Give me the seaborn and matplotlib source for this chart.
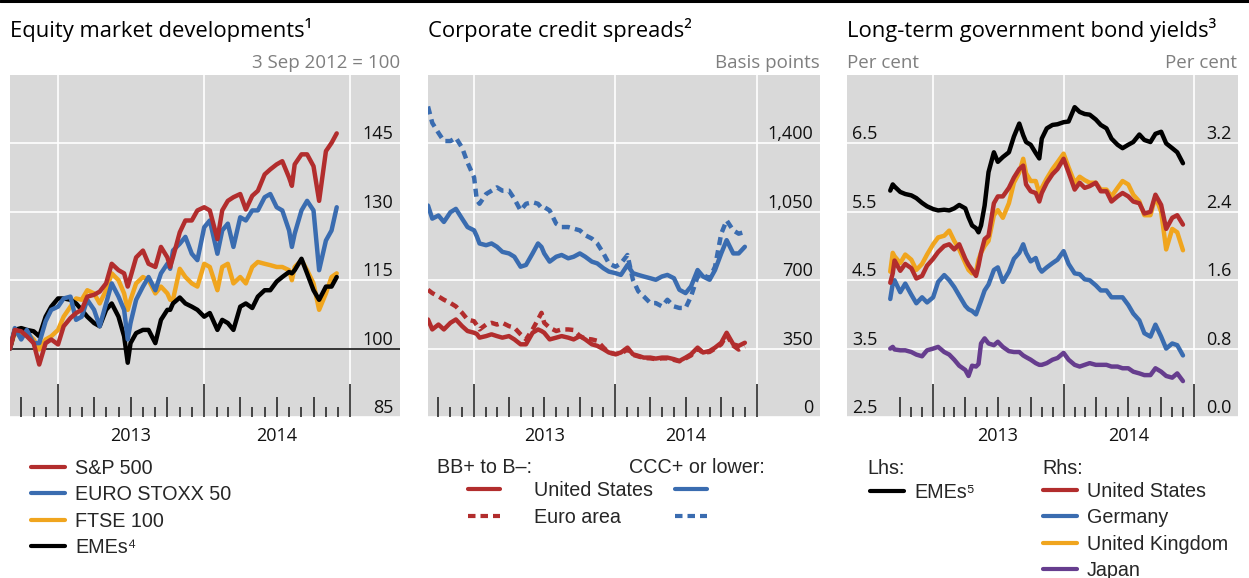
import matplotlib.pyplot as plt
import matplotlib.lines as mlines
import pandas as pd
import seaborn as sns

#Colours
red = "#b22d2d"
blue = "#3a6cb0"
orange = "#f0a51e"
purple = "#663d8e"
grey_bg = "#d9d9d9"
unit_grey = "#7f7f7f"

#Equity market developments, 3 Sep 2012 = 100
eq_dates = [
    "2012-09-03", "2012-09-15", "2012-10-01", "2012-10-15", "2012-11-01", "2012-11-15", "2012-12-01", "2012-12-15",
    "2013-01-01", "2013-01-15", "2013-02-01", "2013-02-15", "2013-03-01", "2013-03-15", "2013-04-01", "2013-04-15",
    "2013-05-01", "2013-05-15", "2013-06-01", "2013-06-15", "2013-06-24", "2013-07-01", "2013-07-15", "2013-08-01",
    "2013-08-15", "2013-09-01", "2013-09-15", "2013-10-01", "2013-10-08", "2013-10-15", "2013-11-01", "2013-11-15",
    "2013-12-01", "2013-12-15", "2014-01-01", "2014-01-15", "2014-02-03", "2014-02-15", "2014-03-01", "2014-03-15",
    "2014-04-01", "2014-04-15", "2014-05-01", "2014-05-15", "2014-06-01", "2014-06-15", "2014-07-01", "2014-07-15",
    "2014-08-01", "2014-08-08", "2014-08-15", "2014-09-01", "2014-09-15", "2014-10-01", "2014-10-15", "2014-11-01",
    "2014-11-15", "2014-11-28"]
sp500 = [
    100.0, 104.1, 103.8, 102.7, 101.2, 96.5, 101.2, 102.0,
    100.9, 104.9, 106.7, 107.8, 108.5, 111.4, 111.8, 112.5,
    114.3, 118.6, 117.2, 116.5, 113.6, 115.7, 120.0, 121.5,
    118.6, 117.9, 122.3, 120.0, 117.9, 120.0, 125.5, 128.1,
    128.1, 130.3, 131.0, 130.3, 124.0, 130.3, 132.4, 133.2,
    133.9, 130.5, 133.5, 134.6, 138.2, 139.3, 140.4, 141.1,
    137.5, 135.7, 140.4, 142.6, 142.6, 140.0, 132.4, 143.3,
    145.1, 147.2]
stoxx50 = [
    100.0, 104.5, 102.0, 104.1, 101.2, 101.2, 106.0, 108.5,
    109.2, 111.0, 111.4, 106.3, 107.0, 110.7, 108.5, 104.9,
    109.9, 114.3, 111.4, 108.5, 102.0, 105.6, 110.7, 113.6,
    115.7, 112.8, 116.5, 118.6, 117.5, 121.5, 123.0, 124.5,
    120.8, 119.4, 126.6, 128.1, 120.8, 125.9, 127.4, 122.3,
    128.8, 128.1, 130.3, 130.3, 133.2, 133.9, 131.0, 130.3,
    125.9, 122.3, 125.2, 130.3, 132.4, 130.3, 117.2, 123.7,
    125.9, 131.0]
ftse100 = [
    100.0, 103.5, 102.7, 103.4, 102.0, 99.8, 102.0, 102.7,
    104.1, 107.0, 109.2, 111.0, 110.7, 112.8, 112.1, 109.9,
    112.8, 116.5, 115.0, 112.1, 108.5, 110.7, 114.3, 115.7,
    115.0, 112.1, 113.6, 112.1, 110.7, 110.7, 117.5, 115.7,
    114.3, 113.6, 118.6, 117.9, 112.8, 117.9, 118.6, 114.3,
    115.7, 114.3, 117.9, 119.0, 118.6, 118.3, 117.9, 117.9,
    117.2, 115.0, 117.9, 119.4, 117.2, 114.3, 108.5, 112.1,
    115.7, 116.5]
eq_emes = [
    100.0, 104.1, 104.5, 104.1, 103.8, 102.7, 107.0, 109.2,
    111.0, 111.0, 110.7, 109.9, 108.5, 107.0, 105.6, 104.9,
    108.5, 109.9, 107.0, 102.7, 96.9, 101.2, 103.4, 104.1,
    104.1, 101.2, 106.3, 108.5, 108.5, 109.9, 111.2, 109.9,
    109.2, 108.5, 107.0, 107.8, 104.1, 106.3, 105.6, 104.1,
    109.2, 109.9, 108.9, 111.4, 112.8, 112.8, 114.7, 115.7,
    116.8, 116.5, 117.2, 119.7, 116.5, 112.8, 110.7, 113.6,
    113.6, 115.7]

#Corporate credit spreads, basis points
cs_dates = [
    "2012-09-04", "2012-09-15", "2012-10-01", "2012-10-15", "2012-11-01", "2012-11-15", "2012-12-01", "2012-12-15",
    "2013-01-01", "2013-01-08", "2013-01-15", "2013-02-01", "2013-02-15", "2013-03-01", "2013-03-15", "2013-04-01",
    "2013-04-15", "2013-05-01", "2013-05-15", "2013-06-01", "2013-06-15", "2013-06-24", "2013-07-01", "2013-07-15",
    "2013-08-01", "2013-08-15", "2013-09-01", "2013-09-15", "2013-10-01", "2013-10-15", "2013-11-01", "2013-11-15",
    "2013-12-01", "2013-12-15", "2014-01-01", "2014-01-15", "2014-02-01", "2014-02-15", "2014-03-01", "2014-03-15",
    "2014-04-01", "2014-04-15", "2014-05-01", "2014-05-15", "2014-06-01", "2014-06-15", "2014-07-01", "2014-07-15",
    "2014-08-01", "2014-08-15", "2014-09-01", "2014-09-15", "2014-10-01", "2014-10-15", "2014-11-01", "2014-11-15",
    "2014-12-01"]
us_ccc = [
    1082, 1015, 1031, 998, 1048, 1065, 1015, 972,
    955, 925, 888, 879, 888, 871, 845, 837,
    820, 769, 778, 837, 888, 870, 837, 795,
    820, 829, 812, 820, 837, 820, 795, 786,
    761, 744, 736, 727, 778, 736, 727, 719,
    710, 702, 719, 727, 710, 651, 634, 668,
    752, 719, 702, 752, 837, 905, 837, 837,
    871]
ea_ccc = [
    1589, 1505, 1454, 1412, 1412, 1429, 1378, 1302,
    1226, 1110, 1091, 1141, 1158, 1175, 1158, 1158,
    1116, 1057, 1091, 1099, 1091, 1070, 1074, 1057,
    989, 972, 972, 964, 955, 930, 913, 888,
    837, 786, 769, 786, 829, 702, 643, 617,
    583, 583, 566, 600, 566, 558, 558, 617,
    719, 727, 710, 769, 938, 1006, 955, 938,
    947]
us_bb = [
    499, 448, 473, 448, 482, 499, 465, 440,
    431, 425, 406, 414, 423, 414, 406, 414,
    397, 372, 372, 431, 448, 440, 431, 397,
    406, 414, 406, 397, 414, 397, 372, 364,
    347, 330, 321, 330, 355, 321, 313, 304,
    304, 299, 304, 304, 296, 287, 304, 321,
    355, 330, 338, 355, 380, 431, 372, 364,
    380]
ea_bb = [
    651, 634, 617, 600, 583, 566, 533, 499,
    490, 470, 448, 473, 482, 473, 482, 465,
    457, 423, 397, 448, 499, 533, 482, 457,
    440, 448, 448, 445, 414, 401, 397, 390,
    355, 330, 322, 325, 345, 318, 310, 302,
    300, 296, 300, 300, 292, 285, 300, 315,
    350, 328, 333, 350, 372, 420, 365, 345,
    360]

#Long-term government bond yields, per cent
by_dates = [
    "2012-09-03", "2012-09-10", "2012-09-15", "2012-10-01", "2012-10-15", "2012-11-01", "2012-11-15", "2012-12-01",
    "2012-12-15", "2013-01-01", "2013-01-15", "2013-02-01", "2013-02-15", "2013-03-01", "2013-03-15", "2013-04-01",
    "2013-04-10", "2013-04-20", "2013-05-01", "2013-05-08", "2013-05-15", "2013-05-25", "2013-06-05", "2013-06-20",
    "2013-07-01", "2013-07-15", "2013-08-01", "2013-08-15", "2013-08-30", "2013-09-10", "2013-09-18", "2013-10-01",
    "2013-10-15", "2013-10-25", "2013-11-01", "2013-11-15", "2013-12-01", "2013-12-15", "2014-01-01", "2014-01-15",
    "2014-02-01", "2014-02-15", "2014-03-01", "2014-03-15", "2014-04-01", "2014-04-15", "2014-05-01", "2014-05-15",
    "2014-06-01", "2014-06-15", "2014-07-01", "2014-07-15", "2014-08-01", "2014-08-15", "2014-09-01", "2014-09-15",
    "2014-10-01", "2014-10-15", "2014-11-01", "2014-11-15", "2014-12-01"]
by_emes = [
    5.81, 5.90, 5.87, 5.79, 5.76, 5.74, 5.70, 5.63,
    5.58, 5.54, 5.52, 5.53, 5.52, 5.55, 5.60, 5.55,
    5.42, 5.30, 5.26, 5.20, 5.30, 5.59, 6.08, 6.37,
    6.23, 6.30, 6.37, 6.60, 6.79, 6.62, 6.52, 6.48,
    6.36, 6.28, 6.57, 6.72, 6.77, 6.78, 6.81, 6.82,
    7.03, 6.96, 6.93, 6.92, 6.85, 6.77, 6.72, 6.57,
    6.48, 6.43, 6.48, 6.52, 6.63, 6.55, 6.52, 6.64,
    6.67, 6.50, 6.43, 6.37, 6.21]
us_10y = [
    1.57, 1.68, 1.83, 1.71, 1.79, 1.74, 1.62, 1.65,
    1.77, 1.85, 1.93, 2.00, 2.02, 1.96, 2.02, 1.85,
    1.78, 1.72, 1.65, 1.77, 1.92, 2.08, 2.12, 2.50,
    2.58, 2.58, 2.68, 2.80, 2.90, 2.94, 2.72, 2.64,
    2.62, 2.52, 2.62, 2.74, 2.84, 2.90, 3.02, 2.86,
    2.66, 2.74, 2.68, 2.70, 2.74, 2.64, 2.64, 2.52,
    2.58, 2.62, 2.58, 2.52, 2.50, 2.38, 2.40, 2.60,
    2.48, 2.20, 2.33, 2.36, 2.25]
de_10y = [
    1.38, 1.56, 1.60, 1.46, 1.56, 1.43, 1.33, 1.40,
    1.34, 1.40, 1.58, 1.66, 1.60, 1.52, 1.42, 1.30,
    1.26, 1.24, 1.20, 1.28, 1.36, 1.48, 1.55, 1.72,
    1.75, 1.58, 1.70, 1.85, 1.92, 2.02, 1.92, 1.82,
    1.86, 1.74, 1.70, 1.75, 1.80, 1.84, 1.94, 1.79,
    1.68, 1.67, 1.61, 1.60, 1.54, 1.48, 1.48, 1.40,
    1.40, 1.40, 1.31, 1.21, 1.13, 0.98, 0.94, 1.08,
    0.94, 0.80, 0.86, 0.84, 0.72]
uk_10y = [
    1.70, 1.92, 1.88, 1.80, 1.90, 1.84, 1.72, 1.79,
    1.90, 2.02, 2.10, 2.12, 2.18, 2.06, 1.96, 1.80,
    1.72, 1.68, 1.70, 1.84, 1.92, 2.00, 2.06, 2.36,
    2.42, 2.33, 2.50, 2.74, 2.86, 3.02, 2.85, 2.76,
    2.76, 2.62, 2.68, 2.79, 2.90, 2.98, 3.08, 2.92,
    2.74, 2.81, 2.77, 2.74, 2.74, 2.66, 2.66, 2.58,
    2.68, 2.76, 2.72, 2.60, 2.52, 2.36, 2.36, 2.58,
    2.40, 1.96, 2.20, 2.16, 1.95]
jp_10y = [
    0.80, 0.82, 0.79, 0.78, 0.78, 0.76, 0.73, 0.71,
    0.78, 0.80, 0.82, 0.76, 0.73, 0.67, 0.60, 0.55,
    0.48, 0.60, 0.59, 0.62, 0.86, 0.92, 0.86, 0.84,
    0.88, 0.82, 0.77, 0.76, 0.76, 0.72, 0.70, 0.67,
    0.63, 0.61, 0.61, 0.63, 0.67, 0.69, 0.75, 0.67,
    0.61, 0.59, 0.61, 0.63, 0.61, 0.61, 0.61, 0.59,
    0.59, 0.57, 0.57, 0.53, 0.51, 0.49, 0.49, 0.57,
    0.53, 0.48, 0.46, 0.51, 0.42]


def long_frame(dates, series):
    #one row per date and series, the way seaborn likes it
    parts = []
    for name, vals in series.items():
        parts.append(pd.DataFrame({"date": pd.to_datetime(dates), "value": vals, "series": name}))
    return pd.concat(parts, ignore_index=True)


eq = long_frame(eq_dates, {"FTSE 100": ftse100, "EMEs": eq_emes, "EURO STOXX 50": stoxx50, "S&P 500": sp500})
cs = long_frame(cs_dates, {"EA CCC": ea_ccc, "US CCC": us_ccc, "EA BB": ea_bb, "US BB": us_bb})
by_rhs = long_frame(by_dates, {"Japan": jp_10y, "Germany": de_10y, "United Kingdom": uk_10y, "United States": us_10y})
by_lhs = long_frame(by_dates, {"EMEs": by_emes})

sns.set_style("darkgrid", {"axes.facecolor": grey_bg, "grid.color": "white", "axes.edgecolor": grey_bg})
plt.rcParams["font.family"] = ["Open Sans", "DejaVu Sans"]

W, H = 1249, 578
fig = plt.figure(figsize=(W / 100, H / 100), dpi=100)


def fx(px):
    return px / W


def fy(py):
    return 1 - py / H


top, bottom = 75, 417
ax1 = fig.add_axes([fx(10), fy(bottom), fx(390), (bottom - top) / H])
ax2 = fig.add_axes([fx(428), fy(bottom), fx(392), (bottom - top) / H])
ax3 = fig.add_axes([fx(847), fy(bottom), fx(391), (bottom - top) / H])
ax3r = ax3.twinx()

lw = 3.2
dash = (1.8, 1.2)

#Panel 1
ax1.axhline(100, color="black", lw=1.1, zorder=1.5)
sns.lineplot(data=eq, x="date", y="value", hue="series",
             hue_order=["FTSE 100", "EMEs", "EURO STOXX 50", "S&P 500"],
             palette=[orange, "black", blue, red], linewidth=lw, legend=False, ax=ax1)

#Panel 2
sns.lineplot(data=cs, x="date", y="value", hue="series", style="series",
             hue_order=["EA CCC", "US CCC", "EA BB", "US BB"],
             palette={"EA CCC": blue, "US CCC": blue, "EA BB": red, "US BB": red},
             dashes={"EA CCC": dash, "US CCC": "", "EA BB": dash, "US BB": ""},
             linewidth=lw, legend=False, ax=ax2)

#Panel 3
sns.lineplot(data=by_lhs, x="date", y="value", color="black", linewidth=lw, legend=False, ax=ax3)
sns.lineplot(data=by_rhs, x="date", y="value", hue="series",
             hue_order=["Japan", "Germany", "United Kingdom", "United States"],
             palette=[purple, blue, orange, red], linewidth=lw, legend=False, ax=ax3r)
ax3r.grid(False)

years = pd.to_datetime(["2013-01-01", "2014-01-01", "2015-01-01"])
mid_years = pd.to_datetime(["2013-07-01", "2014-07-01"])
months = pd.date_range("2012-10-01", "2015-01-01", freq="MS")
tick_h = [0.097 if m.month == 1 else 0.058 if m.month in (4, 7, 10) else 0.03 for m in months]


def dress(ax, left, right):
    ax.set_xlim(pd.Timestamp(left), pd.Timestamp(right))
    ax.set_xticks(years)
    ax.set_xticks(mid_years, ["2013", "2014"], minor=True)
    ax.tick_params(axis="x", which="major", length=0, labelbottom=False)
    ax.tick_params(axis="x", which="minor", length=0, pad=7, labelsize=13, colors="#111111")
    ax.grid(True, which="major", color="white", lw=1.2)
    ax.grid(False, which="minor")
    ax.set_xlabel("")
    ax.set_ylabel("")
    for s in ax.spines.values():
        s.set_visible(False)
    #month, quarter and year tick marks rising from the bottom
    ax.vlines(months, 0, tick_h, transform=ax.get_xaxis_transform(), color="#1a1a1a", lw=1.1, zorder=3)


def inside_labels(ax, ticks, labels, side, pad):
    ax.set_yticks(ticks, labels)
    if side == "right":
        ax.yaxis.tick_right()
        ax.tick_params(axis="y", length=0, pad=pad, labelsize=13, labelright=True, labelleft=False, colors="#111111")
        ha = "right"
    else:
        ax.yaxis.tick_left()
        ax.tick_params(axis="y", length=0, pad=pad, labelsize=13, labelleft=True, labelright=False, colors="#111111")
        ha = "left"
    for t in ax.get_yticklabels():
        t.set_ha(ha)
        t.set_va("bottom")


dress(ax1, "2012-09-03", "2015-05-05")
ax1.set_ylim(85, 160)
inside_labels(ax1, [85, 100, 115, 130, 145], ["85", "100", "115", "130", "145"], "right", -5)

dress(ax2, "2012-09-04", "2015-06-13")
ax2.set_ylim(0, 1750)
inside_labels(ax2, [0, 350, 700, 1050, 1400], ["0", "350", "700", "1,050", "1,400"], "right", -5)

dress(ax3, "2012-05-05", "2015-05-04")
ax3.set_ylim(2.5, 7.5)
inside_labels(ax3, [2.5, 3.5, 4.5, 5.5, 6.5], ["2.5", "3.5", "4.5", "5.5", "6.5"], "left", -3.5)
ax3r.set_ylim(0, 4.0)
ax3r.set_ylabel("")
for s in ax3r.spines.values():
    s.set_visible(False)
ax3r.grid(False)
inside_labels(ax3r, [0.0, 0.8, 1.6, 2.4, 3.2], ["0.0", "0.8", "1.6", "2.4", "3.2"], "right", -4.5)

#Rule across the top
fig.add_artist(mlines.Line2D([0, 1], [fy(1), fy(1)], color="black", lw=2.2))

#Titles and units
title_kw = dict(fontsize=15.8, va="baseline", color="black")
fig.text(fx(10), fy(37), "Equity market developments¹", **title_kw)
fig.text(fx(428), fy(37), "Corporate credit spreads²", **title_kw)
fig.text(fx(847), fy(37), "Long-term government bond yields³", **title_kw)
unit_kw = dict(fontsize=13.5, va="baseline", color=unit_grey)
fig.text(fx(400), fy(68), "3 Sep 2012 = 100", ha="right", **unit_kw)
fig.text(fx(820), fy(68), "Basis points", ha="right", **unit_kw)
fig.text(fx(847), fy(68), "Per cent", ha="left", **unit_kw)
fig.text(fx(1237), fy(68), "Per cent", ha="right", **unit_kw)

#Legends
leg_font = ["Liberation Sans", "DejaVu Sans"]


def key(x0, x1, y, color, dashed=False):
    ls = (0, dash) if dashed else "-"
    fig.add_artist(mlines.Line2D([fx(x0), fx(x1)], [fy(y), fy(y)], color=color, lw=3, linestyle=ls))


def label(x, y, text):
    fig.text(fx(x), fy(y), text, fontsize=14.2, va="baseline", family=leg_font)


for i, (name, col) in enumerate([("S&P 500", red), ("EURO STOXX 50", blue), ("FTSE 100", orange), ("EMEs⁴", "black")]):
    y = 467 + 26.3 * i
    key(31, 65, y, col)
    label(75, y + 7, name)

label(437, 473, "BB+ to B–:")
label(629, 473, "CCC+ or lower:")
key(468, 500, 489, red)
key(675, 707, 489, blue)
label(534, 496, "United States")
key(468, 500, 516, red, dashed=True)
key(675, 707, 516, blue, dashed=True)
label(534, 523, "Euro area")

label(867, 474, "Lhs:")
key(870, 904, 491, "black")
label(914, 498, "EMEs⁵")
label(1042, 474, "Rhs:")
for i, (name, col) in enumerate([("United States", red), ("Germany", blue), ("United Kingdom", orange), ("Japan", purple)]):
    y = 490 + 26.3 * i
    key(1043, 1077, y, col)
    label(1087, y + 7, name)

fig.savefig("out.png", dpi=100)
